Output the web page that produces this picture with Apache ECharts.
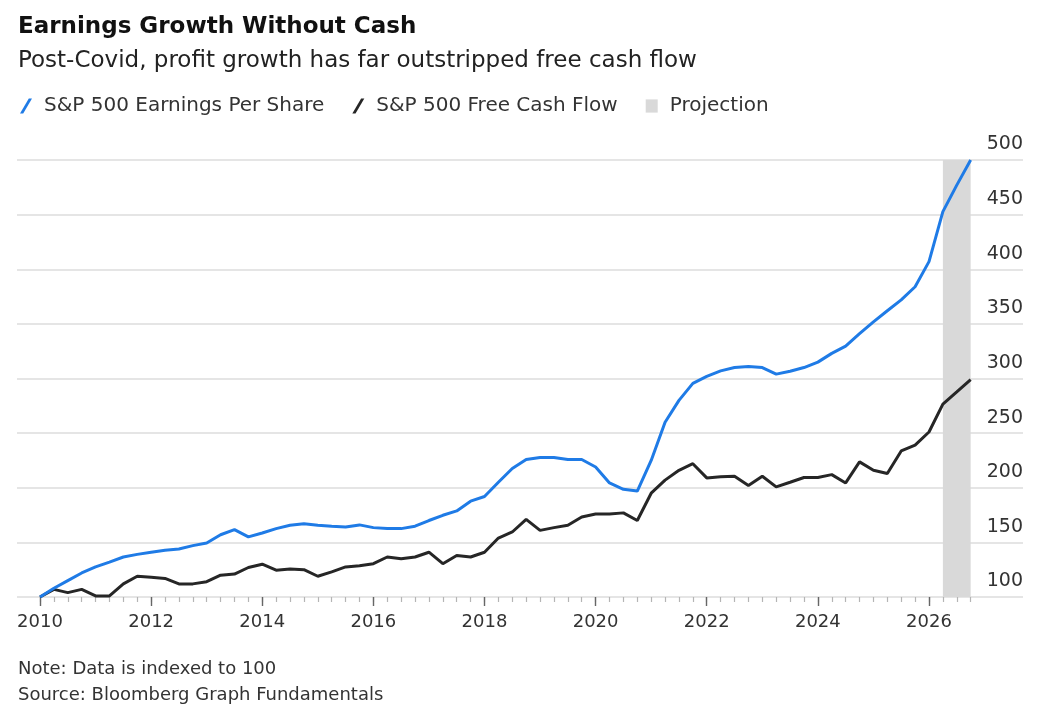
<!DOCTYPE html>
<html>
<head>
  <meta charset="UTF-8">
  <title>Earnings Growth Without Cash</title>
  <script src="https://cdn.jsdelivr.net/npm/echarts@6/dist/echarts.min.js"></script>
  <style>
    html, body { margin: 0; padding: 0; background: #fff; }
    #main { width: 1040px; height: 714px; }
  </style>
</head>
<body>
<div id="main"></div>
<script>
  // quarterly time points (year fractions)
  const quarters = [
    2010.00, 2010.25, 2010.50, 2010.75, 2011.00, 2011.25, 2011.50, 2011.75,
    2012.00, 2012.25, 2012.50, 2012.75, 2013.00, 2013.25, 2013.50, 2013.75,
    2014.00, 2014.25, 2014.50, 2014.75, 2015.00, 2015.25, 2015.50, 2015.75,
    2016.00, 2016.25, 2016.50, 2016.75, 2017.00, 2017.25, 2017.50, 2017.75,
    2018.00, 2018.25, 2018.50, 2018.75, 2019.00, 2019.25, 2019.50, 2019.75,
    2020.00, 2020.25, 2020.50, 2020.75, 2021.00, 2021.25, 2021.50, 2021.75,
    2022.00, 2022.25, 2022.50, 2022.75, 2023.00, 2023.25, 2023.50, 2023.75,
    2024.00, 2024.25, 2024.50, 2024.75, 2025.00, 2025.25, 2025.50, 2025.75,
    2026.00, 2026.25, 2026.50, 2026.75
  ];

  // S&P 500 earnings per share, indexed to 100
  const epsValues = [
    100, 108, 115, 122, 127.5, 132, 136.6, 139,
    141, 142.8, 144, 147, 149.5, 157, 161.7, 155,
    158.6, 162.6, 165.7, 167, 165.7, 164.8, 164, 166,
    163.5, 162.6, 162.6, 164.8, 170, 174.8, 178.8, 187.7,
    192, 205, 217.6, 225.9, 227.7, 227.7, 225.9, 225.9,
    219, 204.4, 198.6, 197, 225, 260, 280, 295.5,
    302, 307, 310, 311, 310, 304, 306.7, 310,
    315, 323, 329.6, 341, 351.8, 362, 372, 384,
    407, 452.7, 477, 500
  ];

  // S&P 500 free cash flow, indexed to 100
  const fcfValues = [
    100, 107, 104, 107, 101, 101, 112, 119,
    118, 117, 112, 112, 114, 120, 121, 127,
    130, 124.5, 125.6, 125, 119, 123, 127.5, 128.7,
    130.5, 136.6, 135, 136.6, 141, 130.5, 138, 136.6,
    141, 154, 159.5, 171, 161, 163.5, 165.7, 173.3,
    176, 176, 177, 170, 195, 207, 216, 222,
    209, 210, 210.5, 202, 210.5, 200.8, 205, 209.4,
    209.4, 212, 204.4, 223.7, 216, 213, 233.7, 239,
    251, 276.5, 287.7, 299
  ];

  const projection = [2026.25, 2026.75];
  const yearLabels = [2010, 2012, 2014, 2016, 2018, 2020, 2022, 2024, 2026];

  const FONT = '"DejaVu Sans", Verdana, sans-serif';
  const BLUE = '#1f7be6';
  const DARK = '#262626';

  const xMin = 2009.586;
  const xMax = 2027.692;

  let chart = echarts.init(document.getElementById('main'), null, {renderer: 'canvas'});

  let option = {
    animation: false,
    backgroundColor: '#fff',
    textStyle: { fontFamily: FONT },
    title: [
      {
        text: 'Earnings Growth Without Cash',
        left: 18, top: 16, padding: 0,
        textStyle: { fontFamily: FONT, fontSize: 23, fontWeight: 'bold', color: '#111' }
      },
      {
        text: 'Post-Covid, profit growth has far outstripped free cash flow',
        left: 18, top: 50, padding: 0,
        textStyle: { fontFamily: FONT, fontSize: 23, fontWeight: 'normal', color: '#222' }
      },
      {
        text: 'Note: Data is indexed to 100',
        left: 18, top: 660, padding: 0,
        textStyle: { fontFamily: FONT, fontSize: 18, fontWeight: 'normal', color: '#333' }
      },
      {
        text: 'Source: Bloomberg Graph Fundamentals',
        left: 18, top: 686, padding: 0,
        textStyle: { fontFamily: FONT, fontSize: 18, fontWeight: 'normal', color: '#333' }
      }
    ],
    legend: {
      left: 20, top: 96, padding: 0,
      itemWidth: 12, itemHeight: 15,
      itemGap: 28,
      selectedMode: false,
      textStyle: { fontFamily: FONT, fontSize: 20, color: '#333', padding: [0, 0, 0, 7] },
      data: [
        { name: 'S&P 500 Earnings Per Share', icon: 'path://M0,15 L3.2,15 L12,0 L8.8,0 Z' },
        { name: 'S&P 500 Free Cash Flow', icon: 'path://M0,15 L3.2,15 L12,0 L8.8,0 Z' },
        { name: 'Projection', icon: 'path://M0,0 L10,0 L10,11 L0,11 Z' }
      ]
    },
    grid: { left: 17, right: 17, top: 160, bottom: 117 },
    xAxis: [
      {
        type: 'value', position: 'bottom',
        min: xMin, max: xMax,
        axisLine: { show: false },
        splitLine: { show: false },
        axisTick: {
          show: true, length: 5,
          lineStyle: { color: '#b5b5b5', width: 1.2 },
          customValues: quarters
        },
        axisLabel: { show: false }
      },
      {
        type: 'value', position: 'bottom',
        min: xMin, max: xMax,
        axisLine: { show: false },
        splitLine: { show: false },
        axisTick: {
          show: true, length: 9,
          lineStyle: { color: '#666', width: 1.4 },
          customValues: yearLabels
        },
        axisLabel: {
          show: true, margin: 16,
          fontFamily: FONT, fontSize: 18, color: '#333',
          customValues: yearLabels,
          formatter: function (v) { return String(Math.round(v)); }
        }
      }
    ],
    yAxis: {
      type: 'value', position: 'right',
      min: 100, max: 500, interval: 50,
      axisLine: { show: false },
      axisTick: { show: false },
      splitLine: { show: true, lineStyle: { color: '#dcdcdc', width: 1.5 } },
      axisLabel: {
        inside: true, margin: 0,
        align: 'right', verticalAlign: 'bottom',
        padding: [0, 0, 6, 0],
        fontFamily: FONT, fontSize: 19, color: '#333'
      }
    },
    series: [
      {
        name: 'Projection',
        type: 'line',
        xAxisIndex: 0,
        data: [],
        itemStyle: { color: '#d9d9d9' },
        lineStyle: { color: '#d9d9d9' },
        markArea: {
          silent: true,
          itemStyle: { color: '#d9d9d9' },
          data: [[{ xAxis: projection[0] }, { xAxis: projection[1] }]]
        }
      },
      {
        name: 'S&P 500 Free Cash Flow',
        type: 'line',
        xAxisIndex: 0,
        symbol: 'none',
        itemStyle: { color: DARK },
        lineStyle: { color: DARK, width: 3 },
        data: quarters.map(function (q, i) { return [q, fcfValues[i]]; })
      },
      {
        name: 'S&P 500 Earnings Per Share',
        type: 'line',
        xAxisIndex: 0,
        symbol: 'none',
        itemStyle: { color: BLUE },
        lineStyle: { color: BLUE, width: 3 },
        data: quarters.map(function (q, i) { return [q, epsValues[i]]; })
      }
    ]
  };

  chart.setOption(option);

  window.addEventListener("resize", function () {
    chart.resize();
  });
</script>
</body>
</html>
